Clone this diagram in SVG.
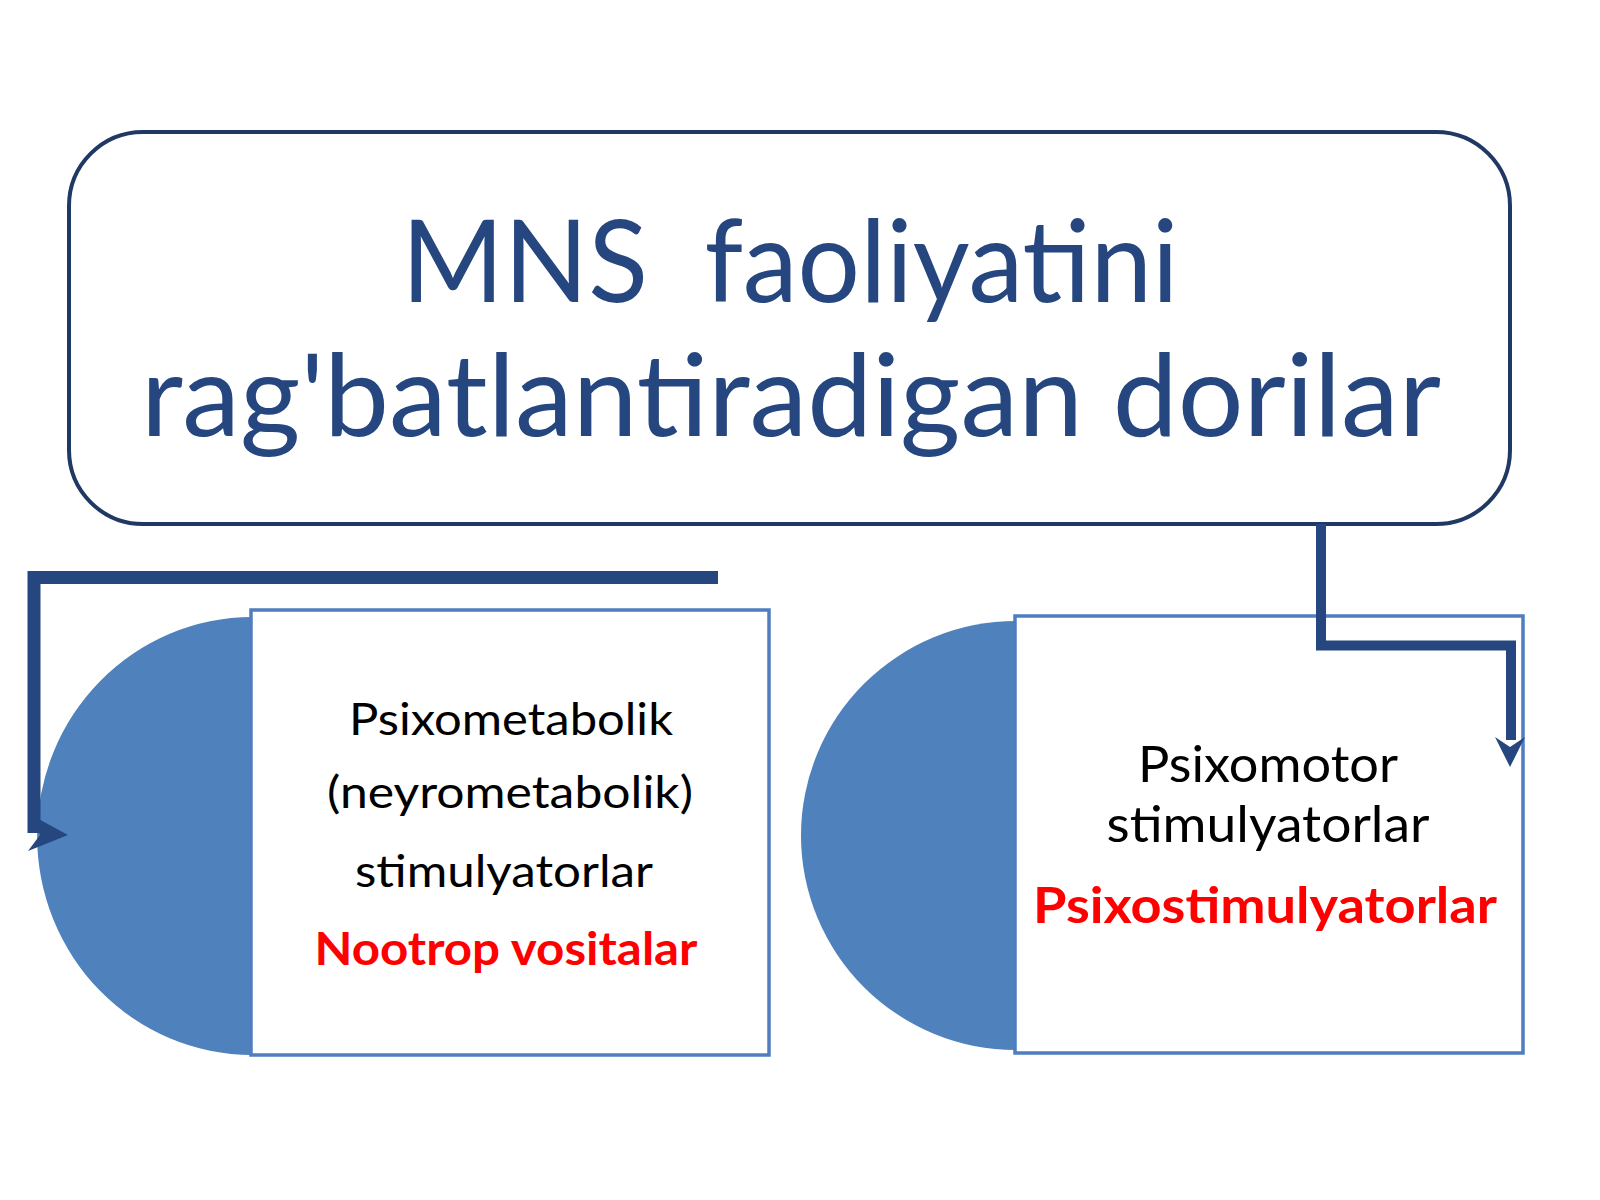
<svg xmlns="http://www.w3.org/2000/svg" width="1600" height="1200" viewBox="0 0 1600 1200">
<style>
.title{font-family:Lato,"Open Sans","Liberation Sans",sans-serif;font-size:115px;fill:#25467F;text-anchor:middle}
.lt{font-family:Lato,"Open Sans","Liberation Sans",sans-serif;font-size:45px;fill:#000;text-anchor:middle}
.rt{font-family:Lato,"Open Sans","Liberation Sans",sans-serif;font-size:50px;fill:#000;text-anchor:middle}
.red{fill:#FF0000;font-weight:bold}
.half{fill:#4F81BD}
.box{fill:#fff;stroke:#4F7DC0;stroke-width:3.5}
.conn{fill:none;stroke:#25467F;stroke-linejoin:miter}
.head{fill:#25467F}
</style>
<rect width="1600" height="1200" fill="#fff"/>
<g id="title-node">
<rect x="69" y="132" width="1441" height="392" rx="74" ry="74" fill="#fff" stroke="#1F3864" stroke-width="4"/>
<text class="title" x="790" y="302" xml:space="preserve" textLength="777" lengthAdjust="spacingAndGlyphs">MNS  faoliyatini</text>
<text class="title" x="791" y="436" textLength="1300" lengthAdjust="spacingAndGlyphs">rag'batlantiradigan dorilar</text>
</g>
<g id="left-node">
<path class="half" d="M252,617 A215,219 0 0 0 252,1055 Z"/>
<rect class="box" x="251" y="610" width="518" height="445"/>
<text class="lt" x="511" y="735" textLength="324" lengthAdjust="spacingAndGlyphs">Psixometabolik</text>
<text class="lt" x="510" y="808" textLength="366" lengthAdjust="spacingAndGlyphs">(neyrometabolik)</text>
<text class="lt" x="504" y="887" textLength="298" lengthAdjust="spacingAndGlyphs">stimulyatorlar</text>
<text class="lt red" x="506" y="965" textLength="383" lengthAdjust="spacingAndGlyphs">Nootrop vositalar</text>
</g>
<g id="right-node">
<path class="half" d="M1016,621 A215,214.5 0 0 0 1016,1050 Z"/>
<rect class="box" x="1015" y="616" width="508" height="437"/>
<text class="rt" x="1268" y="782" textLength="260" lengthAdjust="spacingAndGlyphs">Psixomotor</text>
<text class="rt" x="1268" y="842" textLength="323" lengthAdjust="spacingAndGlyphs">stimulyatorlar</text>
<text class="rt red" x="1265" y="923" textLength="464" lengthAdjust="spacingAndGlyphs">Psixostimulyatorlar</text>
</g>
<g id="connectors">
<path class="conn" stroke-width="13" d="M718,577.5 H34 V833"/>
<polygon class="head" points="33,816 68,835 28,851 40,835"/>
<path class="conn" stroke-width="10" d="M1321,524 V645.5 H1511 V740"/>
<polygon class="head" points="1495,737 1510,747 1525,737 1510,767"/>
</g>
</svg>
